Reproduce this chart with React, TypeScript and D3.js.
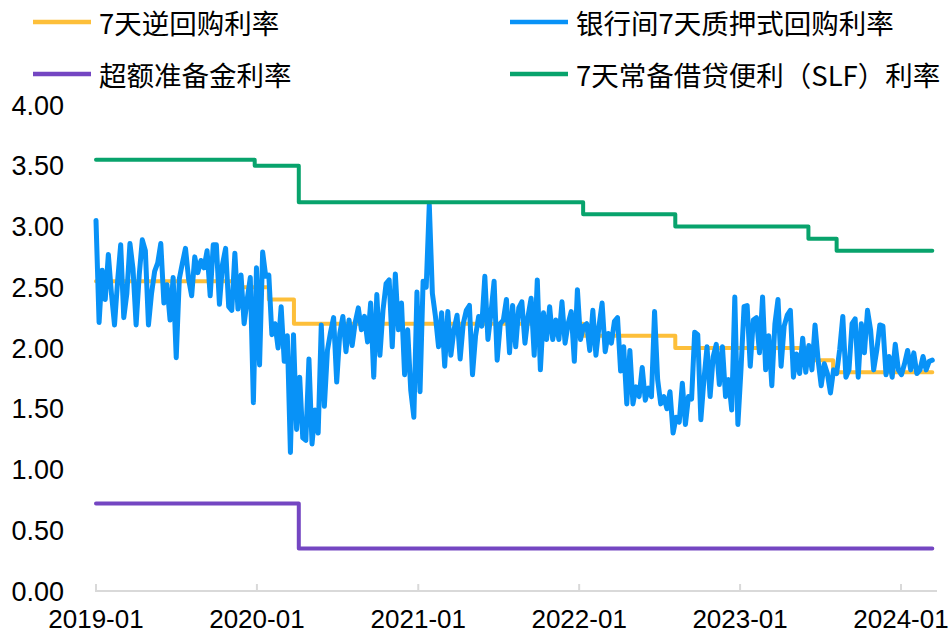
import React from 'react'
import * as d3 from 'd3'

const width = 949
const height = 636

// 7天逆回购利率：调整日期 / 利率
const reverseRepoDates = ['2019-01-01', '2019-11-08', '2020-01-28', '2020-03-25', '2022-01-10', '2022-08-07', '2023-06-05', '2023-07-31']
const reverseRepoRates = [2.55, 2.5, 2.4, 2.2, 2.1, 2.0, 1.9, 1.8]

// 7天常备借贷便利（SLF）利率
const slfDates = ['2019-01-01', '2019-12-27', '2020-04-05', '2022-01-10', '2022-08-07', '2023-06-05', '2023-08-08']
const slfRates = [3.55, 3.5, 3.2, 3.1, 3.0, 2.9, 2.8]

// 超额准备金利率
const excessReserveDates = ['2019-01-01', '2020-04-05']
const excessReserveRates = [0.72, 0.35]

// 银行间7天质押式回购利率, weekly readings starting 2019-01-01
const dr007Start = '2019-01-01'
const dr007 = [
  3.05, 2.21, 2.64, 2.40, 2.77, 2.45, 2.19, 2.55, 2.85, 2.25,
  2.45, 2.86, 2.65, 2.19, 2.60, 2.89, 2.80, 2.19, 2.45, 2.63,
  2.70, 2.86, 2.37, 2.52, 2.23, 2.58, 1.92, 2.57, 2.70, 2.82,
  2.57, 2.43, 2.75, 2.62, 2.72, 2.66, 2.80, 2.43, 2.85, 2.85,
  2.36, 2.69, 2.82, 2.34, 2.31, 2.78, 2.32, 2.60, 2.20, 2.40,
  2.58, 1.55, 2.66, 1.86, 2.79, 2.59, 2.60, 2.11, 2.20, 2.00,
  2.34, 1.89, 2.10, 1.14, 2.11, 1.33, 1.76, 1.26, 1.24, 1.91,
  1.21, 1.49, 1.30, 2.19, 1.52, 1.98, 2.13, 2.25, 1.72, 2.12,
  2.26, 1.97, 2.23, 2.02, 2.21, 2.33, 2.15, 2.26, 2.05, 2.37,
  1.76, 2.44, 1.94, 2.31, 2.53, 2.56, 2.01, 2.61, 2.15, 2.37,
  1.78, 2.15, 1.65, 1.43, 2.46, 1.64, 2.55, 2.50, 3.18, 2.45,
  2.26, 2.01, 2.29, 1.85, 2.30, 1.94, 2.15, 2.27, 1.91, 2.20,
  2.31, 2.35, 1.78, 2.10, 2.26, 2.18, 2.59, 2.07, 2.29, 2.55,
  1.90, 2.20, 2.23, 2.40, 1.96, 2.35, 2.01, 2.33, 2.38, 2.04,
  2.26, 2.41, 1.94, 2.56, 1.82, 2.29, 2.07, 2.34, 2.07, 2.23,
  2.07, 2.38, 2.04, 2.20, 2.30, 1.89, 2.48, 2.07, 2.18, 2.20,
  1.98, 2.31, 1.94, 2.18, 2.37, 1.97, 2.12, 2.04, 2.22, 2.25,
  1.81, 2.01, 1.54, 1.98, 1.54, 1.68, 1.60, 1.84, 1.57, 1.67,
  1.60, 2.30, 1.74, 1.54, 1.60, 1.50, 1.64, 1.30, 1.43, 1.39,
  1.71, 1.37, 1.60, 1.58, 2.13, 2.11, 1.41, 1.74, 2.01, 1.60,
  1.93, 2.03, 1.70, 2.01, 1.60, 1.74, 1.49, 2.42, 1.37, 1.82,
  2.34, 2.35, 1.85, 2.23, 2.25, 1.96, 2.42, 1.82, 2.10, 1.69,
  2.20, 2.40, 1.85, 2.18, 2.27, 2.31, 1.76, 1.95, 1.79, 2.08,
  1.80, 2.02, 1.82, 2.19, 1.90, 1.69, 1.87, 1.79, 1.63, 1.82,
  1.79, 1.99, 2.26, 1.76, 1.82, 2.20, 2.24, 1.76, 2.20, 1.96,
  2.31, 2.15, 1.82, 1.98, 2.19, 2.18, 1.78, 1.93, 1.76, 2.03,
  1.82, 1.78, 1.87, 1.98, 1.82, 1.96, 1.79, 1.82, 1.93, 1.82,
  1.89, 1.90,
]

const endDate = '2024-03-12'
const xTickLabels = ['2019-01', '2020-01', '2021-01', '2022-01', '2023-01', '2024-01']
const yTickValues = [0, 0.5, 1, 1.5, 2, 2.5, 3, 3.5, 4]

const seriesNames = ['7天逆回购利率', '银行间7天质押式回购利率', '超额准备金利率', '7天常备借贷便利（SLF）利率']
const seriesColors = ['#FDBF3A', '#0892F7', '#7446C2', '#08A36C']

const parseDay = d3.timeParse('%Y-%m-%d')
const parseMonth = d3.timeParse('%Y-%m')

const App = () => {
  const x = d3.scaleTime()
    .domain([parseDay('2019-01-01'), parseDay('2024-01-01')])
    .range([96, 901])
  const y = d3.scaleLinear().domain([0, 4]).range([591, 105])

  const line = d3.line<[Date, number]>()
    .x(d => x(d[0]))
    .y(d => y(d[1]))

  const stepLine = d3.line<[Date, number]>()
    .x(d => x(d[0]))
    .y(d => y(d[1]))
    .curve(d3.curveStepAfter)

  const toSteps = (dates: string[], rates: number[]): [Date, number][] => {
    const pts: [Date, number][] = dates.map((d, i) => [parseDay(d), rates[i]])
    pts.push([parseDay(endDate), rates[rates.length - 1]])
    return pts
  }

  const start = parseDay(dr007Start)
  const dr007Points: [Date, number][] = dr007.map((v, i) => [d3.timeDay.offset(start, i * 7), v])

  const paths = [
    stepLine(toSteps(reverseRepoDates, reverseRepoRates)),
    line(dr007Points),
    stepLine(toSteps(excessReserveDates, excessReserveRates)),
    stepLine(toSteps(slfDates, slfRates)),
  ]

  const legendPos = [
    { x: 33, y: 22 },
    { x: 510, y: 22 },
    { x: 33, y: 74 },
    { x: 510, y: 74 },
  ]

  const axisFont = '"Liberation Sans", Arial, sans-serif'
  const cjkFont = '"Noto Sans CJK SC", "Noto Sans", sans-serif'

  return (
    <svg width={width} height={height} style={{ position: 'absolute', left: 0, top: 0, background: '#fff' }}>
      {/* legend */}
      {seriesNames.map((name, i) => (
        <g key={name}>
          <line x1={legendPos[i].x} x2={legendPos[i].x + 58} y1={legendPos[i].y} y2={legendPos[i].y}
            stroke={seriesColors[i]} strokeWidth={4.5} />
          <text x={legendPos[i].x + 66} y={legendPos[i].y} dominantBaseline="central"
            fontFamily={cjkFont} fontSize={27.5} fill="#000">{name}</text>
        </g>
      ))}

      {/* y axis labels */}
      {yTickValues.map(v => (
        <text key={v} x={64} y={y(v)} dy="0.36em" textAnchor="end"
          fontFamily={axisFont} fontSize={27} fill="#000">{v.toFixed(2)}</text>
      ))}

      {/* x axis */}
      <line x1={95} x2={937} y1={y(0)} y2={y(0)} stroke="#D9D9D9" strokeWidth={2} />
      {xTickLabels.map(t => {
        const tx = x(parseMonth(t))
        return (
          <g key={t}>
            <line x1={tx} x2={tx} y1={y(0)} y2={y(0) - 7} stroke="#D9D9D9" strokeWidth={2} />
            <text x={tx} y={628} textAnchor="middle" fontFamily={axisFont} fontSize={26} fill="#000">{t}</text>
          </g>
        )
      })}

      {/* series */}
      {paths.map((d, i) => (
        <path key={i} d={d || ''} fill="none" stroke={seriesColors[i]} strokeWidth={i === 1 ? 5 : 4}
          strokeLinejoin="round" strokeLinecap="round" />
      ))}
    </svg>
  )
}

export default App
